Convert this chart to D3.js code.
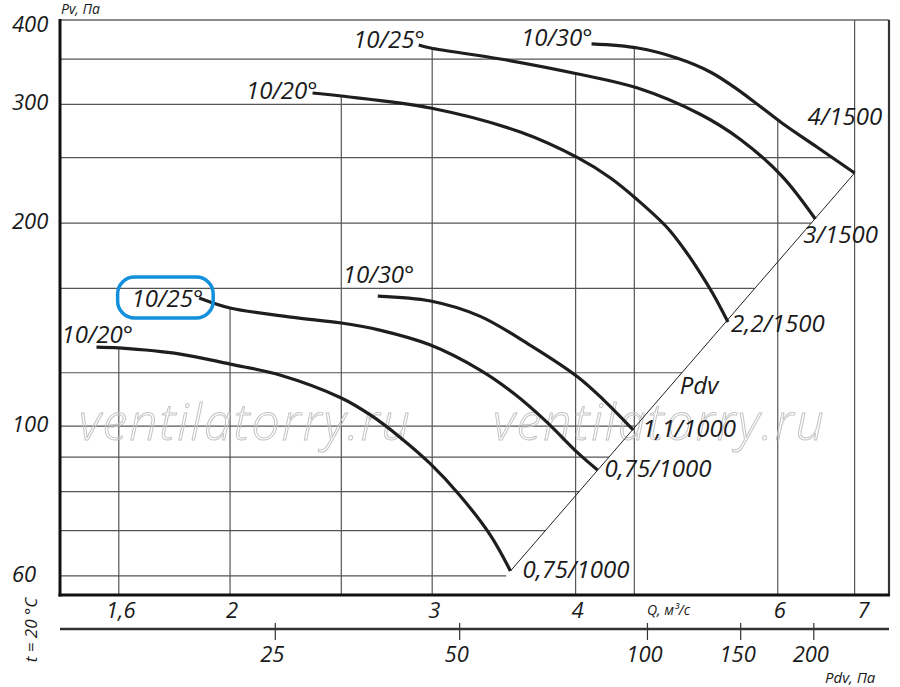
<!DOCTYPE html>
<html><head><meta charset="utf-8">
<script src="https://cdn.jsdelivr.net/npm/d3@7"></script>
<style>
html,body{margin:0;padding:0;background:#fff;}
svg{display:block;}
text{font-family:"Open Sans",sans-serif;font-style:italic;fill:#1a1a1a;}
</style></head><body>
<svg id="c" width="900" height="687"></svg>
<script>
// ---------------- data ----------------
const bladeLabels = ["10/20°","10/25°","10/30°","10/20°","10/25°","10/30°"];
const motorLabels = ["0,75/1000","0,75/1000","1,1/1000","2,2/1500","3/1500","4/1500"];

const q_20_1000 = [1.53,1.60,1.81,2.00,2.21,2.50,2.65,2.81,2.99,3.17,3.37,3.51];
const p_20_1000 = [131.0,130.6,127.9,123.6,119.1,110.1,103.9,96.4,87.9,79.0,69.0,61.0];
const q_25_1000 = [1.88,2.00,2.26,2.50,2.70,2.99,3.30,3.53,3.76,4.02,4.18];
const p_25_1000 = [154.9,149.7,145.1,142.2,138.8,131.9,121.2,112.0,102.1,91.2,86.1];
const q_30_1000 = [2.69,2.99,3.30,3.65,4.02,4.23,4.49];
const p_30_1000 = [155.9,153.3,145.6,131.9,118.2,109.4,98.7];
const q_20_1500 = [2.36,2.50,2.99,3.58,4.02,4.29,4.53,4.81,5.00,5.13,5.27,5.43];
const p_20_1500 = [311.8,308.6,296.2,272.9,249.8,233.3,216.4,196.7,180.6,169.2,157.0,142.7];
const q_25_1500 = [2.92,2.99,3.44,4.02,4.53,5.13,5.56,6.05,6.47];
const p_25_1500 = [367.3,363.5,350.2,332.7,317.1,290.2,266.5,234.8,202.8];
const q_30_1500 = [4.13,4.53,4.90,5.24,5.49,5.79,6.05,6.49,7.00];
const p_30_1500 = [368.6,363.5,351.3,335.0,318.6,298.0,281.5,259.3,237.3];

const pdvLineQ = [3.51, 7.00];
const pdvLineP = [61.0, 237.3];

const qGridValues = [1.6, 2, 2.5, 3, 4, 4.5, 6, 7];
const qTickValues = [1.6, 2, 3, 4, 6, 7];
const qTickLabels = ["1,6", "2", "3", "4", "6", "7"];
const pGridValues = [60, 70, 80, 90, 100, 120, 160, 200, 250, 300, 350];
const pTickValues = [60, 100, 200, 300, 400];
const pdvTickValues = [25, 50, 100, 150, 200];
const pdvTickAtQ = [2.19, 3.17, 4.62, 5.57, 6.45];

// ---------------- layout ----------------
const L = 60, R = 889, T = 20, B = 595;
const x = d3.scaleLog().domain([1.422, 7.5]).range([L, R]);
const y = d3.scaleLog().domain([56.2, 400]).range([B, T]);
const svg = d3.select("#c");

const curves = [
  {q: q_20_1000, p: p_20_1000},
  {q: q_25_1000, p: p_25_1000},
  {q: q_30_1000, p: p_30_1000},
  {q: q_20_1500, p: p_20_1500},
  {q: q_25_1500, p: p_25_1500},
  {q: q_30_1500, p: p_30_1500}
].map((c, i) => ({...c, blade: bladeLabels[i], motor: motorLabels[i],
  pts: c.q.map((q, j) => [x(q), y(c.p[j])])}));

// label offsets (style)
const startOff = [
  {a: "start", dx: -35, dy: -4},
  {a: "end", dx: 4, dy: 9},
  {a: "start", dx: -35, dy: -13},
  {a: "end", dx: 5, dy: 6},
  {a: "end", dx: 6, dy: 3},
  {a: "end", dx: 1, dy: 2}
];
const endOff = [
  {dx: 12, dy: 7}, {dx: 7, dy: 7}, {dx: 9, dy: 7},
  {dx: 3, dy: 10}, {dx: -12, dy: 24}, {dx: -47, dy: -48}
];

// diagonal (dynamic pressure) line in pixel space, extendable downward
const dA = [x(pdvLineQ[0]), y(pdvLineP[0])], dB = [x(pdvLineQ[1]), y(pdvLineP[1])];
function diagXAtY(py) {
  if (py < dB[1]) return null;
  return dA[0] + (py - dA[1]) * (dB[0] - dA[0]) / (dB[1] - dA[1]);
}
function topYAt(px) {
  let best = null;
  curves.forEach(c => {
    const P = c.pts;
    if (px >= P[0][0] && px < P[P.length - 1][0]) {
      for (let i = 0; i < P.length - 1; i++) {
        if (px >= P[i][0] && px <= P[i + 1][0]) {
          const t = (px - P[i][0]) / (P[i + 1][0] - P[i][0]);
          const yy = P[i][1] + t * (P[i + 1][1] - P[i][1]);
          best = best == null ? yy : Math.min(best, yy);
          break;
        }
      }
    }
  });
  return best == null ? T : best;
}
function rightXAt(py) {
  let best = null;
  curves.forEach(c => {
    const P = c.pts;
    for (let i = 0; i < P.length - 1; i++) {
      if (py >= P[i][1] && py <= P[i + 1][1]) {
        const t = (py - P[i][1]) / (P[i + 1][1] - P[i][1]);
        const xx = P[i][0] + t * (P[i + 1][0] - P[i][0]);
        best = best == null ? xx : Math.max(best, xx);
        break;
      }
    }
  });
  const dx = diagXAtY(py);
  if (dx != null) best = best == null ? dx : Math.max(best, dx);
  return best == null ? R : best;
}

// gridlines
const grid = svg.append("g").attr("stroke", "#555").attr("stroke-width", 1.2);
qGridValues.forEach(q => {
  const gx = x(q);
  grid.append("line").attr("x1", gx).attr("x2", gx).attr("y1", B).attr("y2", topYAt(gx));
});
pGridValues.forEach(p => {
  const gy = y(p);
  grid.append("line").attr("x1", L).attr("x2", rightXAt(gy)).attr("y1", gy).attr("y2", gy);
});

// watermark
["ventilatorry.ru", "ventilatorry.ru"].forEach((t, i) => {
  svg.append("text").attr("x", i ? 493 : 79).attr("y", 440).text(t)
    .style("font-size", "50px").style("letter-spacing", "2px").style("fill", "none")
    .attr("stroke", "#c4c4c4").attr("stroke-width", 1).style("font-weight", 300);
});

// diagonal line
svg.append("path")
  .attr("d", d3.line()(pdvLineQ.map((q, i) => [x(q), y(pdvLineP[i])])))
  .attr("stroke", "#222").attr("stroke-width", 1).attr("fill", "none");

// curves
const line = d3.line().curve(d3.curveCatmullRom.alpha(0.5));
curves.forEach(c => {
  svg.append("path").attr("d", line(c.pts)).attr("fill", "none")
    .attr("stroke", "#1e1e1e").attr("stroke-width", 3.2).attr("stroke-linecap", "butt");
});

// frame
svg.append("line").attr("x1", L).attr("x2", R).attr("y1", T).attr("y2", T).attr("stroke", "#666").attr("stroke-width", 1.6);
svg.append("line").attr("x1", R).attr("x2", R).attr("y1", T).attr("y2", B).attr("stroke", "#333").attr("stroke-width", 2.2);
svg.append("line").attr("x1", L).attr("x2", L).attr("y1", T - 1).attr("y2", B + 1.5).attr("stroke", "#111").attr("stroke-width", 3);
svg.append("line").attr("x1", L - 1.5).attr("x2", R + 1).attr("y1", B).attr("y2", B).attr("stroke", "#111").attr("stroke-width", 3);

// curve labels
curves.forEach((c, i) => {
  const s = c.pts[0], e = c.pts[c.pts.length - 1];
  const t = svg.append("text").attr("x", s[0] + startOff[i].dx).attr("y", s[1] + startOff[i].dy)
    .attr("text-anchor", startOff[i].a).style("font-size", "24px").text(c.blade);
  if (i === 1) {
    const bb = t.node().getBBox();
    svg.append("rect").attr("x", bb.x - 14).attr("y", bb.y - 4).attr("width", bb.width + 24)
      .attr("height", bb.height + 8).attr("rx", 17).attr("fill", "none")
      .attr("stroke", "#1390dc").attr("stroke-width", 3.5);
  }
  svg.append("text").attr("x", e[0] + endOff[i].dx).attr("y", e[1] + endOff[i].dy)
    .style("font-size", "24px").text(c.motor);
});
// Pdv label along diagonal
svg.append("text").attr("x", x(4.9) + 3).attr("y", y(4.9 * 4.9 * 4.87) + 14)
  .style("font-size", "24px").text("Pdv");

// y tick labels (left aligned, as in the reference)
pTickValues.forEach(p => {
  svg.append("text").attr("x", 12).attr("y", Math.max(y(p) + 6, T + 12))
    .attr("text-anchor", "start").style("font-size", "22px").text(p);
});
// x tick labels
qTickValues.forEach((q, i) => {
  svg.append("text").attr("x", x(q) + (i === qTickValues.length - 1 ? 9 : 2)).attr("y", 618)
    .attr("text-anchor", "middle").style("font-size", "22px").text(qTickLabels[i]);
});

// secondary Pdv axis
const ax2Y = 629;
svg.append("line").attr("x1", L).attr("x2", R).attr("y1", ax2Y).attr("y2", ax2Y).attr("stroke", "#333").attr("stroke-width", 2.5);
pdvTickValues.forEach((v, i) => {
  const tx = x(pdvTickAtQ[i]);
  svg.append("line").attr("x1", tx).attr("x2", tx).attr("y1", ax2Y - 6).attr("y2", ax2Y + 11).attr("stroke", "#333").attr("stroke-width", 1.2);
  svg.append("text").attr("x", tx - 3).attr("y", 662).attr("text-anchor", "middle").style("font-size", "22px").text(v);
});

// axis titles
svg.append("text").attr("x", 61).attr("y", 14).style("font-size", "14px").text("Pv, Па");
svg.append("text").attr("x", 647).attr("y", 615).style("font-size", "14px").text("Q, м³/с");
svg.append("text").attr("x", 825).attr("y", 683).style("font-size", "15px").text("Pdv, Па");
svg.append("text").attr("transform", "translate(37,630) rotate(-90)").attr("text-anchor", "middle")
  .style("font-size", "17px").text("t = 20 °C");
</script>
</body></html>
